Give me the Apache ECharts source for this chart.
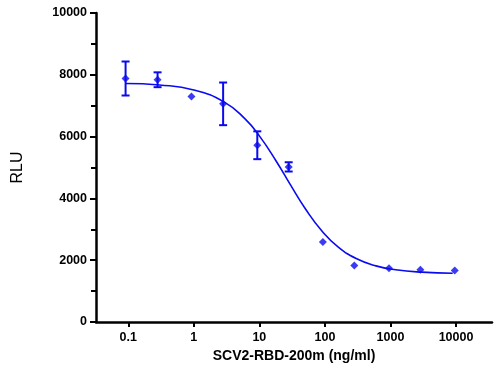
<!DOCTYPE html>
<html>
<head>
<meta charset="utf-8">
<script src="https://cdn.jsdelivr.net/npm/echarts@6/dist/echarts.min.js"></script>
<style>html,body{margin:0;padding:0;background:#fff}#c{width:500px;height:370px}</style>
</head>
<body>
<div id="c"></div>
<script>
// Concentrations (ng/ml) of measured points
const conc = [0.091, 0.28, 0.92, 2.8, 9.3, 28, 93, 281, 950, 2860, 9570];
// Mean RLU
const meanRLU = [7880, 7840, 7300, 7060, 5720, 5020, 2590, 1830, 1740, 1690, 1670];
// Error (half-length of error bar)
const errRLU = [550, 240, 0, 690, 450, 150, 0, 0, 0, 0, 0];
// Fitted curve
const curveX = [0.091, 0.3, 1, 3, 6, 10, 18, 30, 50, 90, 160, 300, 600, 1200, 3000, 8900];
const curveY = [7718, 7670, 7511, 7101, 6581, 6023, 5212, 4429, 3674, 2946, 2424, 2053, 1816, 1691, 1613, 1578];
// Axis ticks
const xTicks = [0.1, 1, 10, 100, 1000, 10000];
const yTicks = [0, 2000, 4000, 6000, 8000, 10000];

const blue = '#0a0aef';
const font = 'Liberation Sans, Arial, sans-serif';

const points = conc.map((c, i) => [c, meanRLU[i]]);
const bars = conc.map((c, i) => [c, meanRLU[i] - errRLU[i], meanRLU[i] + errRLU[i]]).filter((d, i) => errRLU[i] > 0);
const curve = curveX.map((x, i) => [x, curveY[i]]);

function renderErr(params, api) {
  const x = api.value(0), lo = api.value(1), hi = api.value(2);
  const t = api.coord([x, hi]), b = api.coord([x, lo]);
  const w = 4;
  const st = {stroke: blue, lineWidth: 2};
  return {type: 'group', children: [
    {type: 'line', shape: {x1: t[0], y1: t[1], x2: b[0], y2: b[1]}, style: st},
    {type: 'line', shape: {x1: t[0] - w, y1: t[1], x2: t[0] + w, y2: t[1]}, style: st},
    {type: 'line', shape: {x1: b[0] - w, y1: b[1], x2: b[0] + w, y2: b[1]}, style: st}
  ]};
}

const chart = echarts.init(document.getElementById('c'), null, {renderer: 'canvas'});
chart.setOption({
  animation: false,
  grid: {left: 96, right: 8, top: 13, bottom: 48},
  xAxis: {
    type: 'log', logBase: 10, min: 0.0322, max: 35400,
    name: 'SCV2-RBD-200m (ng/ml)', nameLocation: 'middle', nameGap: 24,
    nameTextStyle: {fontFamily: font, fontWeight: 'bold', fontSize: 14, color: '#000'},
    axisLine: {lineStyle: {color: '#000', width: 2.5}},
    axisTick: {show: true, length: 5, lineStyle: {color: '#000', width: 2}, customValues: xTicks},
    axisLabel: {customValues: xTicks, fontFamily: font, fontWeight: 'bold', fontSize: 12.5, color: '#000', margin: 9,
      formatter: v => String(v)},
    splitLine: {show: false},
    minorTick: {show: false}
  },
  yAxis: {
    type: 'value', min: 0, max: 10000, interval: 2000,
    name: 'RLU', nameLocation: 'middle', nameGap: 70,
    nameTextStyle: {fontFamily: font, fontSize: 16, color: '#000'},
    axisLine: {show: true, lineStyle: {color: '#000', width: 2.5}},
    axisTick: {show: true, length: 6, lineStyle: {color: '#000', width: 2}},
    minorTick: {show: true, splitNumber: 2, length: 5, lineStyle: {color: '#000', width: 2}},
    axisLabel: {fontFamily: font, fontWeight: 'bold', fontSize: 12.5, color: '#000', margin: 9,
      formatter: v => String(v)},
    splitLine: {show: false}
  },
  series: [
    {type: 'line', data: curve, smooth: 0.5, symbol: 'none', lineStyle: {color: blue, width: 1.6}, z: 2},
    {type: 'custom', data: bars, renderItem: renderErr, z: 3},
    {type: 'scatter', data: points, symbol: 'diamond', symbolSize: 8, itemStyle: {color: blue}, z: 4}
  ]
});
</script>
</body>
</html>
